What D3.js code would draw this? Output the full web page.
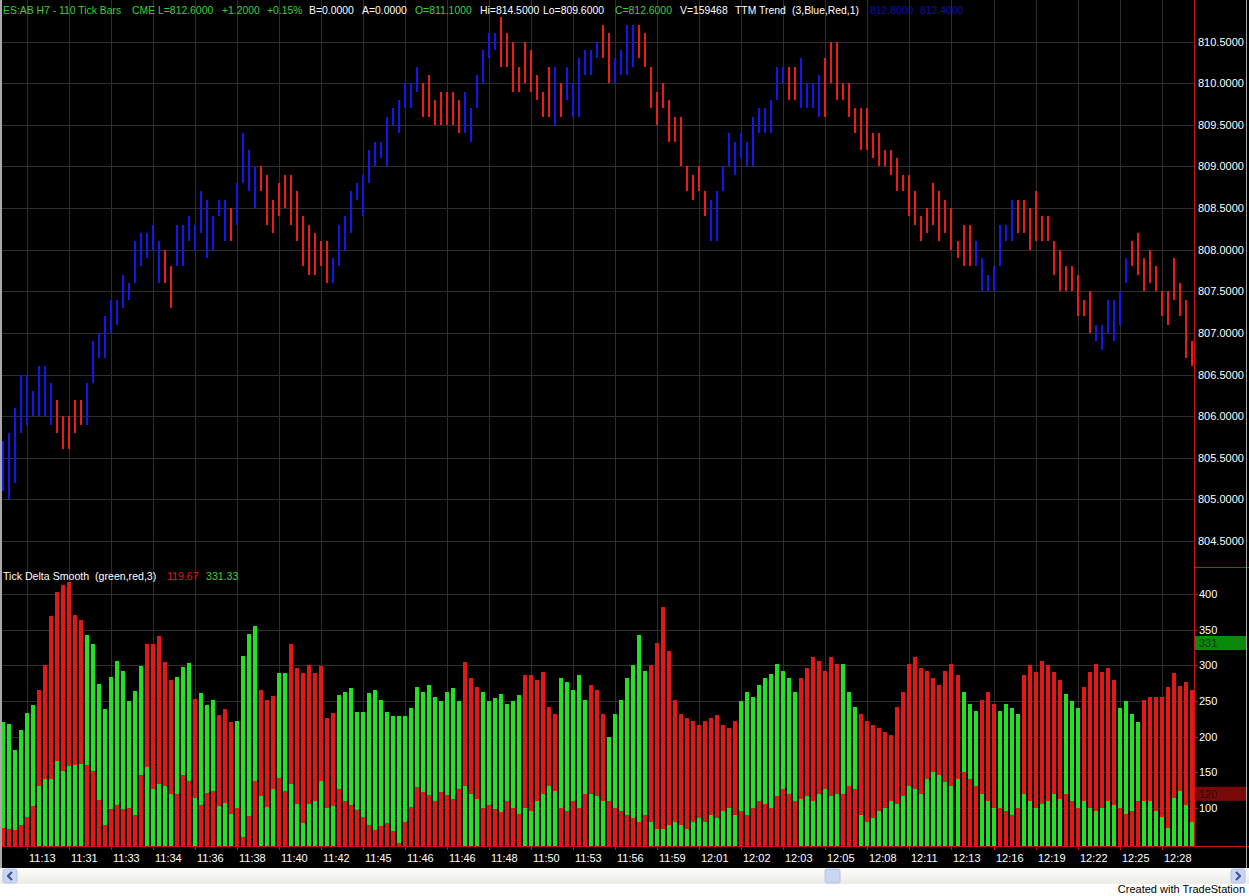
<!DOCTYPE html>
<html><head><meta charset="utf-8">
<script src="https://cdn.jsdelivr.net/npm/d3@7"></script>
<style>html,body{margin:0;padding:0;background:#fff;overflow:hidden}svg{display:block}</style>
</head><body>
<svg id="c" width="1249" height="896"></svg>
<script>
// ---------- DATA ----------
const highs = [805.7,805.8,806.1,806.5,806.5,806.3,806.6,806.6,806.4,806.2,806.0,806.0,806.2,806.2,806.4,806.9,807.0,807.2,807.4,807.4,
807.7,807.6,808.1,808.2,808.2,808.3,808.1,808.0,807.8,808.3,808.3,808.4,808.3,808.7,808.6,808.4,808.6,808.6,808.5,808.8,
809.4,809.2,809.0,809.0,808.9,808.6,808.8,808.9,808.9,808.7,808.4,808.3,808.2,808.1,808.1,807.9,808.3,808.4,808.7,808.8,
808.9,809.2,809.3,809.3,809.6,809.7,809.8,810.0,810.0,810.2,810.0,810.1,809.8,809.9,809.9,809.9,809.8,809.9,809.7,810.1,
810.4,810.6,810.6,810.8,810.6,810.5,810.2,810.5,810.4,810.1,809.9,810.2,810.2,810.0,810.2,810.0,810.3,810.4,810.4,810.5,
810.7,810.6,810.3,810.4,810.7,810.7,810.7,810.6,810.2,809.9,810.0,809.8,809.6,809.6,809.0,808.9,809.0,808.7,808.6,808.7,
809.0,809.4,809.3,809.4,809.3,809.6,809.7,809.7,809.8,810.2,810.2,810.2,810.2,810.3,810.0,810.0,810.1,810.3,810.5,810.5,
810.0,810.0,809.7,809.7,809.7,809.4,809.4,809.2,809.2,809.1,808.9,808.9,808.7,808.4,808.5,808.8,808.7,808.6,808.5,808.1,
808.3,808.3,808.1,807.9,807.7,807.8,808.3,808.3,808.6,808.6,808.6,808.5,808.7,808.4,808.4,808.1,808.0,807.8,807.8,807.7,
807.4,807.5,807.1,807.1,807.4,807.4,807.5,807.9,808.1,808.2,807.9,808.0,807.8,807.5,807.5,807.9,807.6,807.4,806.9];
const lows = [805.1,805.0,805.2,805.8,805.9,806.0,806.0,806.0,805.9,805.8,805.6,805.6,805.8,805.9,805.9,806.4,806.7,806.7,807.0,807.1,
807.3,807.4,807.6,807.8,807.9,808.0,807.6,807.6,807.3,807.8,807.8,808.1,808.0,808.2,807.9,808.0,808.4,808.1,808.1,808.3,
808.8,808.7,808.5,808.7,808.3,808.2,808.4,808.5,808.3,808.1,807.8,807.7,807.7,807.8,807.6,807.6,807.8,808.0,808.2,808.6,
808.4,808.8,809.0,809.1,809.0,809.5,809.4,809.7,809.7,809.9,809.6,809.6,809.5,809.5,809.5,809.5,809.4,809.4,809.3,809.7,
810.0,810.3,810.4,810.2,810.2,809.9,809.9,810.0,809.9,809.8,809.6,809.6,809.5,809.6,809.8,809.6,809.6,810.1,810.1,810.3,
810.3,810.0,810.0,810.1,810.1,810.2,810.3,810.2,809.7,809.5,809.7,809.3,809.3,809.0,808.7,808.6,808.7,808.4,808.1,808.1,
808.7,809.0,808.9,809.1,809.0,809.0,809.4,809.4,809.4,809.8,810.0,809.8,809.8,809.7,809.7,809.7,809.6,809.6,810.0,809.8,
809.8,809.6,809.4,809.2,809.2,809.1,809.0,809.0,808.9,808.7,808.7,808.4,808.3,808.1,808.2,808.3,808.1,808.2,808.0,807.9,
807.8,807.8,807.8,807.5,807.5,807.5,807.8,808.1,808.1,808.2,808.2,808.0,808.1,808.1,808.1,807.7,807.5,807.5,807.5,807.2,
807.2,807.0,806.9,806.8,807.0,806.9,807.1,807.6,807.8,807.7,807.5,807.6,807.5,807.2,807.1,807.4,807.2,806.7,806.6];
const trend = "BBBBBBBBBRRRRRBBBBBBBBBBBBBRRBBBBBBBBBRBBBBRRRRRRRRRRRRBBBBBBBBBBBBBBBRRRRRRRBBBBBBRRRRRRRRRBRBBBBBBRRBBBBRRRRRRRRRRRRBBBBBBBBBBBBBRRBBBBRRRRRRRRRRRRRRRRRRRRRRRRRBBBBBBBRRRRRRRRRRRRRBBBBBBRRRRRRR".split("");
const deltaGreen = [221,218,181,209,233,244,131,140,140,166,151,159,160,161,343,330,274,239,283,306,
292,250,264,299,157,126,134,131,120,283,298,303,114,261,244,251,102,107,91,222,
313,344,355,116,101,127,289,289,133,105,79,105,109,137,100,102,258,262,268,234,
234,261,265,252,234,229,229,229,240,269,262,272,256,250,262,268,250,130,120,112,
262,250,254,260,246,250,258,100,96,110,120,130,124,282,276,266,286,252,120,116,
110,200,232,252,282,300,342,292,80,70,70,76,80,76,70,80,86,80,90,86,
96,100,90,250,262,256,272,282,288,302,292,282,262,112,116,110,120,126,116,120,
302,262,242,90,80,86,96,100,110,106,116,130,126,120,140,150,146,136,130,140,
262,246,236,120,110,100,236,246,240,232,120,110,100,106,110,120,112,260,250,240,
110,100,96,100,110,104,240,250,232,220,110,110,96,87,71,114,123,104,80];
const deltaRed = [71,70,69,76,87,102,265,300,369,403,413,417,371,363,160,151,111,76,98,104,
98,100,90,146,330,330,341,304,280,120,146,138,253,104,121,123,230,239,220,100,
59,88,138,265,251,257,142,123,330,296,289,300,289,299,226,233,127,109,104,97,
87,76,69,74,78,68,51,80,101,129,122,118,110,122,118,112,126,304,282,270,
100,104,98,94,110,100,92,286,286,280,290,242,232,100,96,110,100,120,272,266,
232,110,100,96,90,86,80,90,300,332,382,320,252,232,226,222,216,222,226,230,
216,212,222,96,90,100,110,106,100,116,126,120,110,282,296,312,306,292,312,302,
120,130,126,232,222,216,212,206,202,242,262,302,312,296,292,282,272,292,302,286,
150,140,130,252,262,246,100,96,90,100,286,300,290,306,300,290,280,120,110,100,
270,290,302,290,296,280,100,92,96,110,252,256,256,256,270,289,271,276,265];
const timeLabels = ["11:13","11:31","11:33","11:34","11:36","11:38","11:40","11:42","11:45","11:46","11:46","11:48","11:50","11:53",
"11:56","11:59","12:01","12:02","12:03","12:05","12:08","12:11","12:13","12:16","12:19","12:22","12:25","12:28"];
const priceTicks = [804.5,805.0,805.5,806.0,806.5,807.0,807.5,808.0,808.5,809.0,809.5,810.0,810.5];
const deltaTicks = [100,150,200,250,300,350,400];
const lastDelta = {green:331.33, red:119.67};

// ---------- LAYOUT ----------
const W = 1249, H = 896;
const plotR = 1194;
const svg = d3.select("#c");
const FONT = "'Liberation Sans', Arial, sans-serif";
const col = {blue:"#1515ee", red:"#ee1a1a", green:"#22e022", hred:"#e01818", grid:"#2e2e2e", axis:"#d01010", txtG:"#3ad03a"};

const x = d3.scaleLinear().domain([0, highs.length - 1]).range([2.7, 1191.7]);
const yP = d3.scaleLinear().domain([804.2, 811.0]).range([566, 0]);
const yD = d3.scaleLinear().domain([46.4, 436.6]).range([846, 568]);

svg.append("rect").attr("width", W).attr("height", 868).attr("fill", "#000");

// grid
const gridIdx = timeLabels.map((d, k) => 4 + 7 * k);
const g = svg.append("g").attr("stroke", col.grid).attr("stroke-width", 1).attr("shape-rendering", "crispEdges");
gridIdx.forEach(i => {
  const gx = Math.round(x(i)) + 0.5;
  g.append("line").attr("x1", gx).attr("x2", gx).attr("y1", 0).attr("y2", 846);
});
priceTicks.forEach(p => {
  const gy = Math.round(yP(p)) + 0.5;
  g.append("line").attr("x1", 0).attr("x2", plotR).attr("y1", gy).attr("y2", gy);
});
deltaTicks.forEach(v => {
  const gy = Math.round(yD(v)) + 0.5;
  g.append("line").attr("x1", 0).attr("x2", plotR).attr("y1", gy).attr("y2", gy);
});

// price bars
svg.append("g").attr("shape-rendering", "crispEdges").selectAll("rect").data(highs).join("rect")
  .attr("x", (d, i) => Math.round(x(i)) - 1)
  .attr("width", 2)
  .attr("y", d => yP(d))
  .attr("height", (d, i) => yP(lows[i]) - yP(d))
  .attr("fill", (d, i) => trend[i] === "B" ? col.blue : col.red);

// delta histogram: taller behind, shorter in front
const hist = svg.append("g").attr("shape-rendering", "crispEdges");
deltaGreen.forEach((gv, i) => {
  const rv = deltaRed[i];
  const pair = gv >= rv ? [[gv, col.green], [rv, col.hred]] : [[rv, col.hred], [gv, col.green]];
  pair.forEach(([v, c]) => {
    hist.append("rect").attr("x", Math.round(x(i)) - 2).attr("width", 4)
      .attr("y", yD(v)).attr("height", 846 - yD(v)).attr("fill", c);
  });
});

// axes lines
const ax = svg.append("g").attr("stroke", col.axis).attr("shape-rendering", "crispEdges");
ax.append("line").attr("x1", plotR + 0.5).attr("x2", plotR + 0.5).attr("y1", 0).attr("y2", 846);
ax.append("line").attr("x1", 0).attr("x2", W).attr("y1", 846.5).attr("y2", 846.5);
ax.append("line").attr("x1", plotR).attr("x2", W).attr("y1", 567.5).attr("y2", 567.5);
deltaTicks.forEach(v => {
  const gy = Math.round(yD(v)) + 0.5;
  ax.append("line").attr("x1", plotR).attr("x2", plotR + 4).attr("y1", gy).attr("y2", gy);
});
gridIdx.forEach(i => {
  const gx = Math.round(x(i)) + 0.5;
  ax.append("line").attr("x1", gx).attr("x2", gx).attr("y1", 846).attr("y2", 850);
});

// right axis labels
const t = svg.append("g").attr("font-family", FONT).attr("font-size", 11).attr("fill", "#fff");
priceTicks.forEach(p => {
  t.append("text").attr("x", 1198).attr("y", yP(p) + 4).text(d3.format(".4f")(p));
});
deltaTicks.forEach(v => {
  t.append("text").attr("x", 1199).attr("y", yD(v) + 4).text(v);
});
// time labels
timeLabels.forEach((s, k) => {
  t.append("text").attr("x", Math.round(x(gridIdx[k])) + 2).attr("y", 862).text(s);
});

// last value markers
[[lastDelta.green, "#0a8a0a", "#053a05"], [lastDelta.red, "#7a0a0a", "#3a0505"]].forEach(([v, bg, fg]) => {
  const cy = yD(v);
  svg.append("rect").attr("x", 1195).attr("y", cy - 7).attr("width", 52).attr("height", 14).attr("fill", bg);
  svg.append("text").attr("x", 1199).attr("y", cy + 4).attr("font-family", FONT).attr("font-size", 11)
    .attr("fill", fg).text(Math.round(v));
});

// headers
const hdr = [
  [3, "ES:AB H7 - 110 Tick Bars", col.txtG], [132, "CME", col.txtG], [158, "L=812.6000", col.txtG],
  [222, "+1.2000", col.txtG], [267, "+0.15%", col.txtG], [309, "B=0.0000", "#fff"], [362, "A=0.0000", "#fff"],
  [415, "O=811.1000", col.txtG], [480, "Hi=814.5000", "#fff"], [543, "Lo=809.6000", "#fff"],
  [615, "C=812.6000", col.txtG], [680, "V=159468", "#fff"], [735, "TTM Trend", "#fff"],
  [792, "(3,Blue,Red,1)", "#fff"], [870, "812.8000", "#1010a8"], [920, "812.4000", "#1010a8"]
];
hdr.forEach(([hx, s, c]) => svg.append("text").attr("x", hx).attr("y", 14).attr("font-family", FONT)
  .attr("font-size", 10.4).attr("fill", c).text(s));
const hdr2 = [[3, "Tick Delta Smooth  (green,red,3)", "#fff"], [167, "119.67", "#e01818"], [206, "331.33", col.txtG]];
hdr2.forEach(([hx, s, c]) => svg.append("text").attr("x", hx).attr("y", 580).attr("font-family", FONT)
  .attr("font-size", 10.6).attr("fill", c).style("white-space", "pre").text(s));

// window borders
svg.append("rect").attr("x", 0).attr("y", 0).attr("width", 2).attr("height", 868).attr("fill", "#a8a8a8");
svg.append("rect").attr("x", 1246).attr("y", 0).attr("width", 1).attr("height", 868).attr("fill", "#a8a8a8");

// scrollbar
const defs = svg.append("defs");
const lg = defs.append("linearGradient").attr("id", "sb").attr("x1", 0).attr("x2", 0).attr("y1", 0).attr("y2", 1);
lg.append("stop").attr("offset", 0).attr("stop-color", "#fdfdfb");
lg.append("stop").attr("offset", 1).attr("stop-color", "#ecebe6");
svg.append("rect").attr("x", 0).attr("y", 868).attr("width", W).attr("height", 16).attr("fill", "url(#sb)");
svg.append("rect").attr("x", 0).attr("y", 884).attr("width", W).attr("height", 12).attr("fill", "#fff");
const btn = (bx) => svg.append("rect").attr("x", bx).attr("y", 869).attr("width", 14).attr("height", 14).attr("rx", 2)
  .attr("fill", "#c8d6f4").attr("stroke", "#b4c4e8");
btn(3); btn(1231);
svg.append("path").attr("d", "M12,872 L8,876 L12,880").attr("fill", "none").attr("stroke", "#3a4e9a").attr("stroke-width", 2);
svg.append("path").attr("d", "M1236,872 L1240,876 L1236,880").attr("fill", "none").attr("stroke", "#3a4e9a").attr("stroke-width", 2);
svg.append("rect").attr("x", 825).attr("y", 869).attr("width", 15).attr("height", 14).attr("rx", 2)
  .attr("fill", "#c8d6f4").attr("stroke", "#b4c4e8");
svg.append("text").attr("x", 1245).attr("y", 893).attr("text-anchor", "end").attr("font-family", FONT)
  .attr("font-size", 11).attr("fill", "#000").text("Created with TradeStation");
</script>
</body></html>
